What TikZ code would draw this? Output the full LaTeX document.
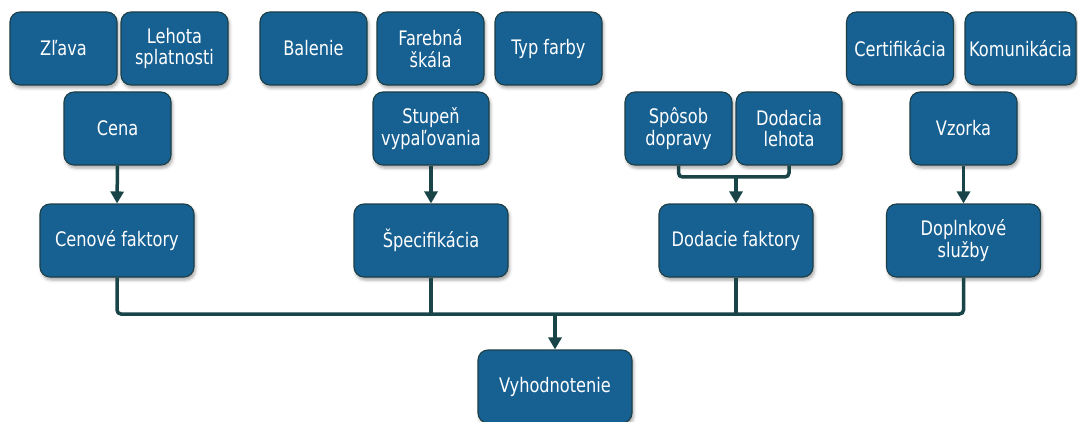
\documentclass[tikz,border=0pt]{standalone}
\usepackage{fontspec}
\setmainfont{DejaVu Sans Condensed}[FakeStretch=0.9]
\usetikzlibrary{arrows.meta,shadows.blur,calc}
\definecolor{boxfill}{HTML}{176092}
\definecolor{boxdraw}{HTML}{1D3F47}
\definecolor{conncol}{HTML}{1A4548}
\tikzset{
  box/.style={draw=boxdraw, line width=1.1pt, fill=boxfill, rounded corners=10pt,
    text=white, align=center, inner sep=0pt, minimum height=73pt,
    font=\fontsize{20}{21.7}\selectfont,
    blur shadow={shadow xshift=1.5pt, shadow yshift=-3pt, shadow blur radius=3pt, shadow opacity=35}},
  conn/.style={draw=conncol, line width=3.5pt},
  arr/.style={conn, -{Triangle[width=13pt,length=12pt]}}
}
\begin{document}
\begin{tikzpicture}[x=1pt,y=-1pt]
\useasboundingbox (0,0) rectangle (1078,422);
% row 1
\node[box, minimum width=107pt] (zlava) at (63.5,48.5) {Zľava};
\node[box, minimum width=107pt] (lehota) at (174.5,48.5) {Lehota\\splatnosti};
\node[box, minimum width=107pt] (balenie) at (313.5,48.5) {Balenie};
\node[box, minimum width=107pt] (farebna) at (430.5,48.5) {Farebná\\škála};
\node[box, minimum width=107pt] (typ) at (548.5,48.5) {Typ farby};
\node[box, minimum width=107pt] (cert) at (900,48.5) {Certifikácia};
\node[box, minimum width=111pt] (komun) at (1020.5,48.5) {Komunikácia};
% row 2
\node[box, minimum width=107pt] (cena) at (117.5,128.5) {Cena};
\node[box, minimum width=116pt] (stupen) at (431,128.5) {Stupeň\\vypaľovania};
\node[box, minimum width=107pt] (sposob) at (678.5,128.5) {Spôsob\\dopravy};
\node[box, minimum width=106pt] (dodacia) at (789,128.5) {Dodacia\\lehota};
\node[box, minimum width=107pt] (vzorka) at (963.5,128.5) {Vzorka};
% row 3
\node[box, minimum width=154pt] (cenove) at (117,240.5) {Cenové faktory};
\node[box, minimum width=154pt] (spec) at (431,240.5) {Špecifikácia};
\node[box, minimum width=154pt] (dodacie) at (736,240.5) {Dodacie faktory};
\node[box, minimum width=154pt] (dopln) at (963.5,240.5) {Doplnkové\\služby};
% row 4
\node[box, minimum width=154pt] (vyh) at (555,386.5) {Vyhodnotenie};
% connectors
\coordinate (join) at (736,177);
\coordinate (bus) at (555,314);
\draw[arr] (cena.south) -- (cenove.north);
\draw[arr] (stupen.south) -- (spec.north);
\draw[arr] (vzorka.south) -- (dopln.north);
\draw[conn, rounded corners=4pt] (sposob.south) |- (join) -| (dodacia.south);
\draw[arr] (join) -- (dodacie.north);
\draw[conn, rounded corners=4pt] (cenove.south) |- (bus) -| (dopln.south);
\draw[conn] (spec.south) -- (spec.south |- bus);
\draw[conn] (dodacie.south) -- (dodacie.south |- bus);
\draw[arr] (bus) -- (vyh.north);
\end{tikzpicture}
\end{document}
